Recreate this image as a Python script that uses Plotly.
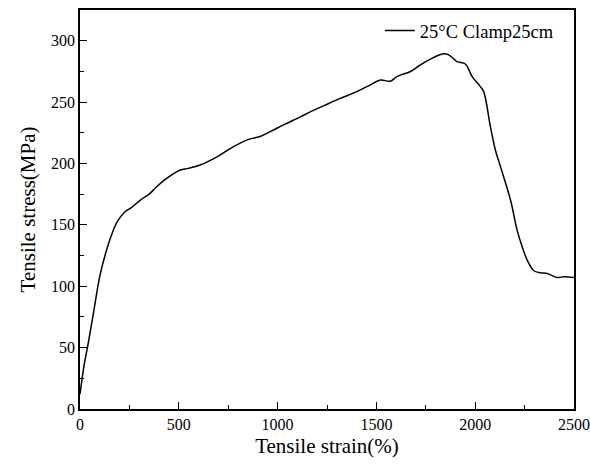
import plotly.graph_objects as go

strain = [0, 20, 40, 70, 100, 130, 160, 190, 228, 260, 304, 350, 388, 440, 507, 549, 608, 700, 777, 861, 912, 970, 1030, 1115, 1165, 1240, 1317, 1400, 1469, 1520, 1570, 1604, 1672, 1720, 1773, 1840, 1866, 1908, 1950, 1984, 2026, 2043, 2077, 2102, 2128, 2179, 2212, 2238, 2263, 2297, 2330, 2364, 2415, 2449, 2500]
stress = [12, 35, 52, 80, 108, 127, 142, 153, 160.7, 164, 170, 175, 181, 188, 194.7, 196, 198.7, 206, 213.7, 220, 222, 226.5, 231.4, 238, 242, 247.5, 253, 258.5, 264, 268, 267, 270.8, 274.9, 280, 285, 289.3, 288.5, 283, 281, 271, 262.6, 258.5, 230, 211, 197.4, 170, 145.7, 132, 121.3, 112.6, 111, 110.4, 107.2, 107.7, 107.2]

x_ticks = [0, 500, 1000, 1500, 2000, 2500]
y_ticks = [0, 50, 100, 150, 200, 250, 300]

fig = go.Figure()
fig.add_trace(go.Scatter(x=strain, y=stress, mode="lines", name="25°C Clamp25cm",
                         line=dict(color="black", width=1.5), line_shape="spline"))

font_family = "Liberation Serif, Times New Roman, serif"
axis_common = dict(showline=True, linecolor="black", linewidth=1.5, mirror=True,
                   ticks="inside", ticklen=7, tickwidth=1.2, tickcolor="black",
                   showgrid=False, zeroline=False, automargin=False,
                   tickfont=dict(family=font_family, size=16, color="black"),
                   minor=dict(ticks="inside", ticklen=4, tickwidth=1, tickcolor="black"))

fig.update_xaxes(range=[0, 2500], tickvals=x_ticks,
                 title=dict(text="Tensile strain(%)", font=dict(family=font_family, size=21, color="black"), standoff=6),
                 **axis_common)
fig.update_xaxes(minor=dict(dtick=250))
fig.update_yaxes(range=[0, 325], tickvals=y_ticks,
                 title=dict(text="Tensile stress(MPa)", font=dict(family=font_family, size=21, color="black"), standoff=10),
                 **axis_common)
fig.update_yaxes(minor=dict(dtick=25))

fig.update_layout(width=590, height=464,
                  margin=dict(l=80, r=16, t=10, b=55),
                  plot_bgcolor="white", paper_bgcolor="white",
                  showlegend=True,
                  legend=dict(x=0.607, y=0.995, xanchor="left", yanchor="top",
                              bgcolor="rgba(0,0,0,0)",
                              font=dict(family=font_family, size=18.5, color="black")))

fig.write_html("out.html")
